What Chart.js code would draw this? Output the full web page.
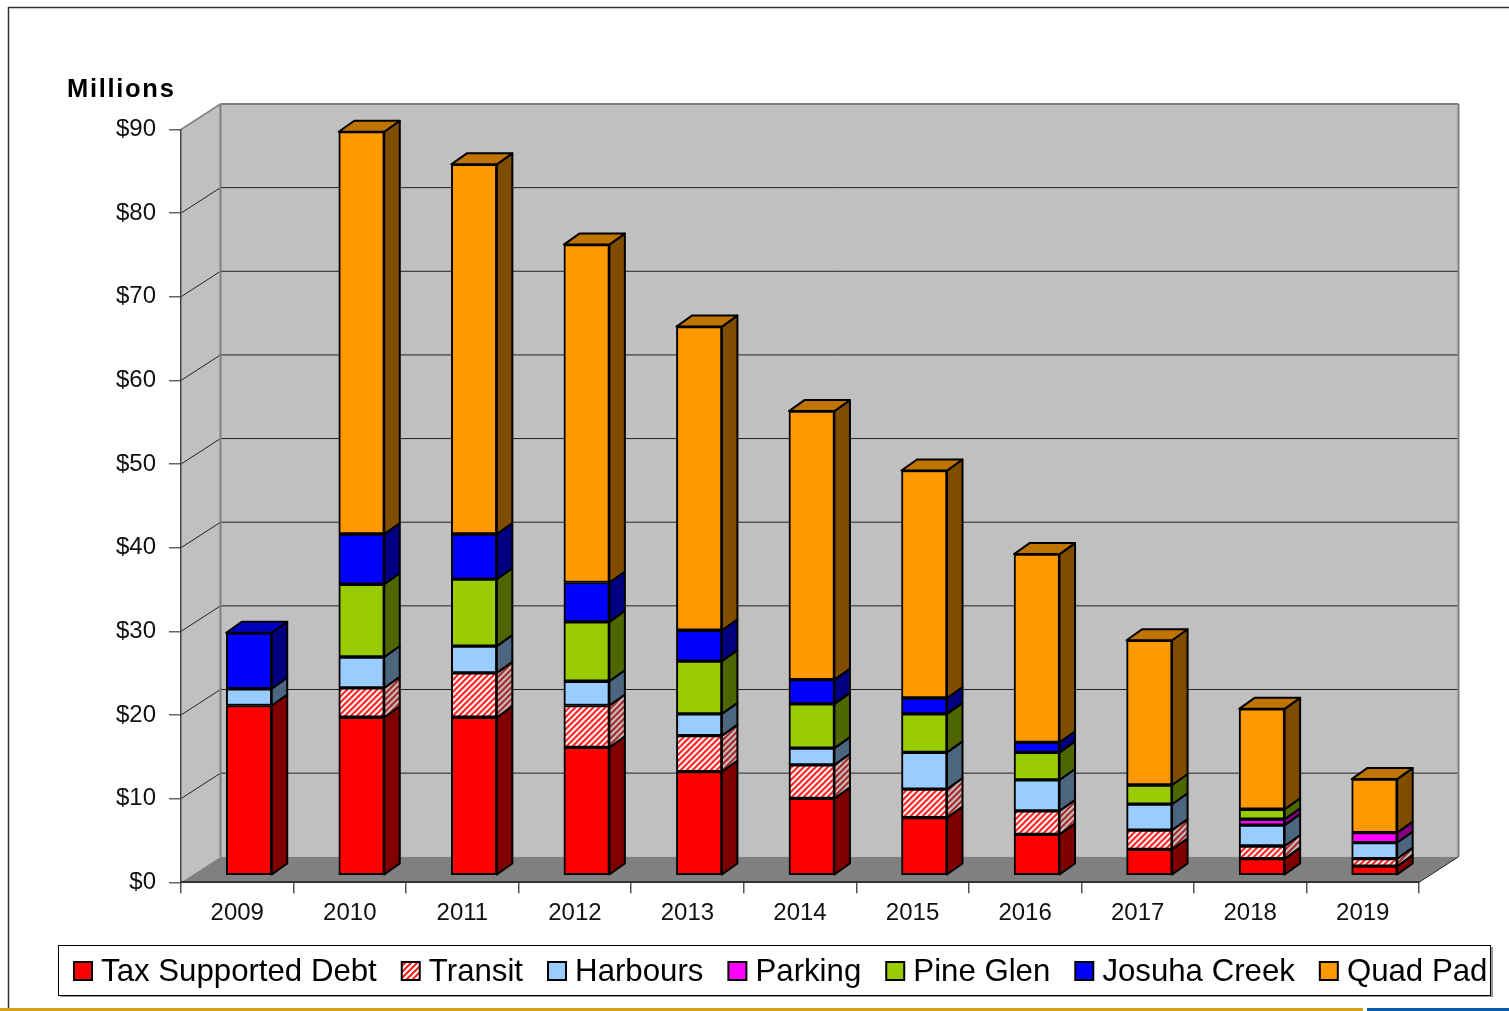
<!DOCTYPE html>
<html>
<head>
<meta charset="utf-8">
<title>Debt by year</title>
<script src="https://cdn.jsdelivr.net/npm/chart.js@4"></script>
<style>
  html, body { margin: 0; padding: 0; background: #fff; overflow: hidden; }
  canvas { display: block; }
</style>
</head>
<body>
<canvas id="chart" width="1509" height="1011"></canvas>
<script>
const years = ["2009", "2010", "2011", "2012", "2013", "2014", "2015", "2016", "2017", "2018", "2019"];

const taxSupported = [20.3, 18.9, 18.9, 15.3, 12.4, 9.2, 6.9, 4.9, 3.1, 2.0, 1.1];
const transit = [0, 3.5, 5.3, 5.0, 4.3, 4.0, 3.4, 2.8, 2.3, 1.5, 0.9];
const harbours = [2.0, 3.7, 3.2, 2.9, 2.6, 2.0, 4.4, 3.7, 3.1, 2.5, 1.9];
const parking = [0, 0, 0, 0, 0, 0, 0, 0, 0, 0.7, 1.2];
const pineGlen = [0, 8.7, 8.0, 7.1, 6.3, 5.3, 4.6, 3.3, 2.3, 1.2, 0];
const josuhaCreek = [6.7, 6.0, 5.4, 4.7, 3.7, 2.9, 1.9, 1.2, 0, 0, 0];
const quadPad = [0, 48.1, 44.2, 40.4, 36.3, 32.1, 27.2, 22.5, 17.3, 12.0, 6.4];

// wall depth and how far the bars sit in from the front plane
const WALL_DX = 39.5, WALL_DY = 25.5;
const BAR_DX = 11.7, BAR_DY = 7;
const SIDE_DX = 15.5, SIDE_DY = 11;

function stripes(bg, fg) {
  const tile = document.createElement("canvas");
  tile.width = 6;
  tile.height = 6;
  const c = tile.getContext("2d");
  c.fillStyle = bg;
  c.fillRect(0, 0, 6, 6);
  c.strokeStyle = fg;
  c.lineWidth = 2.1;
  c.beginPath();
  c.moveTo(-3, 3); c.lineTo(3, -3);
  c.moveTo(0, 6); c.lineTo(6, 0);
  c.moveTo(3, 9); c.lineTo(9, 3);
  c.stroke();
  return c.createPattern(tile, "repeat");
}

const series = [
  { label: "Tax Supported Debt", data: taxSupported, front: "#ff0000", side: "#800000", top: "#c00000" },
  { label: "Transit", data: transit, front: stripes("#ffffff", "#ff1a1a"), side: stripes("#c4c4c4", "#a82020"), top: "#c00000" },
  { label: "Harbours", data: harbours, front: "#99ccff", side: "#4d6680", top: "#7399bf" },
  { label: "Parking", data: parking, front: "#ff00ff", side: "#800080", top: "#c000c0" },
  { label: "Pine Glen", data: pineGlen, front: "#99cc00", side: "#4d6600", top: "#739900" },
  { label: "Josuha Creek", data: josuhaCreek, front: "#0000ff", side: "#000080", top: "#0000c0" },
  { label: "Quad Pad", data: quadPad, front: "#ff9900", side: "#804d00", top: "#bf7300" },
];

function poly(ctx, pts, fill, stroke, width) {
  ctx.beginPath();
  pts.forEach((p, i) => (i ? ctx.lineTo(p[0], p[1]) : ctx.moveTo(p[0], p[1])));
  ctx.closePath();
  if (fill) {
    ctx.fillStyle = fill;
    ctx.fill();
  }
  if (stroke) {
    ctx.strokeStyle = stroke;
    ctx.lineWidth = width;
    ctx.stroke();
  }
}

function line(ctx, x1, y1, x2, y2, color, width) {
  ctx.beginPath();
  ctx.moveTo(x1, y1);
  ctx.lineTo(x2, y2);
  ctx.strokeStyle = color;
  ctx.lineWidth = width;
  ctx.stroke();
}

// page frame, legend frame and the 3D box behind the bars
const backdrop = {
  id: "backdrop",
  beforeDraw(chart) {
    const { ctx, chartArea: a, scales } = chart;
    const y = scales.y;
    const l = a.left, r = a.right, t = y.getPixelForValue(90), b = y.getPixelForValue(0);
    ctx.save();

    line(ctx, 8.5, 7, 8.5, 1008, "#333", 1.5);
    line(ctx, 8, 7.5, 1509, 7.5, "#333", 1.5);
    ctx.fillStyle = "#d4a017";
    ctx.fillRect(0, 1008, 1363, 3);
    ctx.fillStyle = "#0a5aa8";
    ctx.fillRect(1367, 1008, 142, 3);

    ctx.fillStyle = "#999";
    ctx.fillRect(60, 947, 1433, 50);
    ctx.fillStyle = "#fff";
    ctx.fillRect(58, 945, 1433, 50);
    ctx.strokeStyle = "#000";
    ctx.lineWidth = 1;
    ctx.strokeRect(58.5, 945.5, 1432, 50);

    poly(ctx, [[l, t], [l + WALL_DX, t - WALL_DY], [l + WALL_DX, b - WALL_DY], [l, b]], "#c0c0c0");
    poly(ctx, [[l + WALL_DX, t - WALL_DY], [r + WALL_DX, t - WALL_DY], [r + WALL_DX, b - WALL_DY], [l + WALL_DX, b - WALL_DY]], "#c0c0c0");
    poly(ctx, [[l, b], [l + WALL_DX, b - WALL_DY], [r + WALL_DX, b - WALL_DY], [r, b]], "#808080");

    y.ticks.forEach((tick) => {
      if (tick.value === 0 || tick.value === 90) return;
      const py = y.getPixelForValue(tick.value);
      line(ctx, l, py, l + WALL_DX, py - WALL_DY, "#222", 1);
      line(ctx, l + WALL_DX, py - WALL_DY, r + WALL_DX, py - WALL_DY, "#222", 1);
    });

    line(ctx, l, t, l + WALL_DX, t - WALL_DY, "#808080", 1.5);
    line(ctx, l + WALL_DX, t - WALL_DY, r + WALL_DX, t - WALL_DY, "#808080", 2);
    line(ctx, l + WALL_DX, t - WALL_DY, l + WALL_DX, b - WALL_DY, "#808080", 2);
    line(ctx, r + WALL_DX, t - WALL_DY, r + WALL_DX, b - WALL_DY, "#808080", 2);
    line(ctx, r, b, r + WALL_DX, b - WALL_DY, "#222", 1);

    ctx.fillStyle = "#000";
    ctx.font = "bold 25.5px 'Liberation Sans'";
    ctx.letterSpacing = "1.7px";
    ctx.textAlign = "left";
    ctx.textBaseline = "alphabetic";
    ctx.fillText("Millions", 67, 97);
    ctx.restore();
  },
};

// shifts the bars back off the front plane and adds their side and top faces
const bars3d = {
  id: "bars3d",
  beforeDatasetsDraw(chart) {
    chart.ctx.save();
    chart.ctx.translate(BAR_DX, -BAR_DY);
  },
  afterDatasetsDraw(chart) {
    const ctx = chart.ctx;
    ctx.lineJoin = "round";
    years.forEach((_, j) => {
      let topIndex = -1;
      series.forEach((s, i) => {
        if (s.data[j] > 0) topIndex = i;
      });
      series.forEach((s, i) => {
        if (!(s.data[j] > 0)) return;
        const bar = chart.getDatasetMeta(i).data[j];
        const right = bar.x + bar.width / 2;
        const left = bar.x - bar.width / 2;
        poly(ctx, [
          [right, bar.y],
          [right + SIDE_DX, bar.y - SIDE_DY],
          [right + SIDE_DX, bar.base - SIDE_DY],
          [right, bar.base],
        ], s.side, "#000", 2);
        if (i === topIndex) {
          poly(ctx, [
            [left, bar.y],
            [left + SIDE_DX, bar.y - SIDE_DY],
            [right + SIDE_DX, bar.y - SIDE_DY],
            [right, bar.y],
          ], s.top, "#000", 2);
        }
      });
    });
    ctx.restore();
  },
};

// the legend text is native, the swatches are narrower than its box/text gap allows
const swatches = {
  id: "swatches",
  afterDraw(chart) {
    const ctx = chart.ctx;
    chart.legend.legendHitBoxes.forEach((box, i) => {
      ctx.fillStyle = series[i].front;
      ctx.fillRect(box.left, 962, 18, 18);
      ctx.strokeStyle = "#000";
      ctx.lineWidth = 2;
      ctx.strokeRect(box.left, 962, 18, 18);
    });
  },
};

new Chart(document.getElementById("chart"), {
  type: "bar",
  data: {
    labels: years,
    datasets: series.map((s) => ({
      label: s.label,
      data: s.data,
      backgroundColor: s.front,
      borderColor: "#000",
      borderWidth: 2,
      borderSkipped: false,
      barThickness: 45.5,
      clip: false,
    })),
  },
  options: {
    responsive: false,
    animation: false,
    events: [],
    layout: { padding: { left: 49, right: -30, top: 129.5, bottom: 13.5 } },
    font: { family: "'Liberation Sans'" },
    scales: {
      x: {
        stacked: true,
        afterFit: (s) => { s.height = 49; },
        grid: { drawOnChartArea: false, color: "#555", tickLength: 11, lineWidth: 1.5 },
        border: { color: "#333", width: 2 },
        ticks: { color: "#111", padding: 6, maxRotation: 0, font: { family: "'Liberation Sans'", size: 24 } },
      },
      y: {
        stacked: true,
        min: 0,
        max: 90,
        afterFit: (s) => { s.width = 132; },
        grid: { drawOnChartArea: false, color: "#666", tickLength: 12, lineWidth: 1.5 },
        border: { color: "#444", width: 1.5 },
        ticks: {
          stepSize: 10,
          color: "#111",
          padding: 13,
          font: { family: "'Liberation Sans'", size: 24 },
          callback: (v) => `$${v}`,
        },
      },
      spacer: {
        position: "right",
        min: 0,
        max: 1,
        afterFit: (s) => { s.width = 120; },
        grid: { display: false },
        border: { display: false },
        ticks: { display: false },
      },
    },
    plugins: {
      tooltip: { enabled: false },
      legend: {
        position: "bottom",
        align: "start",
        labels: {
          boxWidth: 11.5,
          boxHeight: 18,
          padding: 25,
          color: "#000",
          font: { family: "'Liberation Sans'", size: 31.2, lineHeight: 1.15 },
          generateLabels: (chart) => chart.data.datasets.map((d, i) => ({
            text: d.label,
            datasetIndex: i,
            fillStyle: "rgba(0,0,0,0)",
            strokeStyle: "rgba(0,0,0,0)",
            lineWidth: 0,
          })),
        },
      },
    },
  },
  plugins: [backdrop, bars3d, swatches],
});
</script>
</body>
</html>
